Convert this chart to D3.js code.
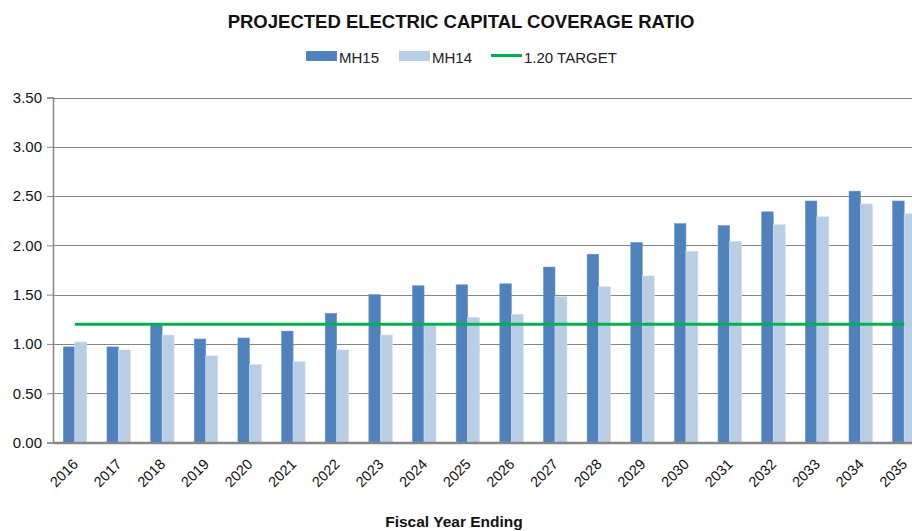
<!DOCTYPE html>
<html>
<head>
<meta charset="utf-8">
<script src="https://cdn.jsdelivr.net/npm/d3@7"></script>
<style>
  html, body { margin: 0; padding: 0; background: #fff; }
  svg { display: block; font-family: "Liberation Sans", Arial, sans-serif; }
</style>
</head>
<body>
<svg id="chart" width="912" height="531"></svg>
<script>
// Fiscal years and coverage ratios for the two forecasts
const years = ["2016","2017","2018","2019","2020","2021","2022","2023","2024","2025",
               "2026","2027","2028","2029","2030","2031","2032","2033","2034","2035"];
const mh15 = [0.97,0.97,1.20,1.05,1.06,1.13,1.31,1.50,1.59,1.60,
              1.61,1.78,1.91,2.03,2.22,2.20,2.34,2.45,2.55,2.45];
const mh14 = [1.02,0.94,1.09,0.88,0.79,0.82,0.94,1.09,1.19,1.27,
              1.30,1.48,1.58,1.69,1.94,2.04,2.21,2.29,2.42,2.32];
const targetRatio = 1.20;
const seriesNames = ["MH15", "MH14"];
const targetName = "1.20 TARGET";
const yTicks = [0, 0.5, 1.0, 1.5, 2.0, 2.5, 3.0, 3.5];

const colors = { MH15: "#4f81bd", MH14: "#b9cde5", target: "#00b050" };

const svg = d3.select("#chart");
const plot = { left: 53, right: 926, top: 97.5, bottom: 442.5 };

const x = d3.scaleBand().domain(years).range([plot.left, plot.right]).padding(0);
const x1 = d3.scaleBand().domain(seriesNames).range([0, 24]).padding(0);
const y = d3.scaleLinear().domain([0, 3.5]).range([plot.bottom, plot.top]);

// Title
svg.append("text")
  .attr("x", 461).attr("y", 28)
  .attr("text-anchor", "middle")
  .attr("font-size", 18.5).attr("font-weight", "bold")
  .attr("fill", "#111")
  .text("PROJECTED ELECTRIC CAPITAL COVERAGE RATIO");

// Legend
const legend = svg.append("g");
const legendItems = [
  { name: "MH15", x: 306, type: "bar", color: colors.MH15 },
  { name: "MH14", x: 399, type: "bar", color: colors.MH14 },
  { name: targetName, x: 491, type: "line", color: colors.target }
];
legendItems.forEach(it => {
  if (it.type === "bar") {
    legend.append("rect").attr("x", it.x).attr("y", 51).attr("width", 31).attr("height", 10).attr("fill", it.color);
  } else {
    legend.append("line").attr("x1", it.x).attr("x2", it.x + 31).attr("y1", 55.5).attr("y2", 55.5)
      .attr("stroke", it.color).attr("stroke-width", 3);
  }
  legend.append("text").attr("x", it.x + 33).attr("y", 63)
    .attr("font-size", 15).attr("fill", "#222").text(it.name);
});

// Horizontal gridlines
svg.append("g").selectAll("line").data(yTicks.slice(1)).join("line")
  .attr("x1", plot.left).attr("x2", plot.right)
  .attr("y1", d => Math.round(y(d)) + 0.5).attr("y2", d => Math.round(y(d)) + 0.5)
  .attr("stroke", "#868686").attr("stroke-width", 1);

// Y axis
const yAxis = svg.append("g")
  .attr("transform", `translate(${plot.left},0)`)
  .call(d3.axisLeft(y).tickValues(yTicks).tickFormat(d3.format(".2f")).tickSize(6).tickPadding(5));
yAxis.select(".domain").attr("stroke", "#868686").attr("stroke-width", 1.5);
yAxis.selectAll(".tick line").attr("stroke", "#868686");
yAxis.selectAll(".tick text").attr("font-size", 15).attr("fill", "#111")
  .attr("font-family", "Liberation Sans, Arial, sans-serif");

// Bars
const groups = svg.append("g").selectAll("g").data(years).join("g")
  .attr("transform", d => `translate(${x(d) + x.bandwidth() / 2 - 12},0)`);
groups.selectAll("rect")
  .data((d, i) => seriesNames.map(s => ({ s, v: s === "MH15" ? mh15[i] : mh14[i] })))
  .join("rect")
  .attr("x", d => x1(d.s) + (d.s === "MH15" ? 0.5 : 0))
  .attr("width", d => x1.bandwidth() - (d.s === "MH15" ? 0.5 : 0))
  .attr("y", d => y(d.v))
  .attr("height", d => y(0) - y(d.v))
  .attr("fill", d => colors[d.s])
  .attr("stroke", d => d.s === "MH15" ? "#6a96cc" : "#d3e0f0")
  .attr("stroke-width", 0.6);

// X axis
const xAxis = svg.append("g")
  .attr("transform", `translate(0,${plot.bottom})`)
  .call(d3.axisBottom(x).tickSize(0));
xAxis.select(".domain").attr("stroke", "#868686").attr("stroke-width", 2.5);
xAxis.selectAll(".tick text")
  .attr("x", 0).attr("y", 0)
  .attr("dy", "0.35em")
  .attr("font-size", 14.5).attr("fill", "#111")
  .attr("font-family", "Liberation Sans, Arial, sans-serif")
  .attr("text-anchor", "end")
  .attr("transform", "translate(0.5,19) rotate(-45)");

// Target line
const line = d3.line().x(d => x(d) + x.bandwidth() / 2).y(() => y(targetRatio));
svg.append("path").datum(years).attr("d", line)
  .attr("fill", "none").attr("stroke", colors.target).attr("stroke-width", 3);

// X axis title
svg.append("text")
  .attr("x", 454).attr("y", 526.5)
  .attr("text-anchor", "middle")
  .attr("font-size", 15.5).attr("font-weight", "bold").attr("fill", "#111")
  .text("Fiscal Year Ending");
</script>
</body>
</html>
